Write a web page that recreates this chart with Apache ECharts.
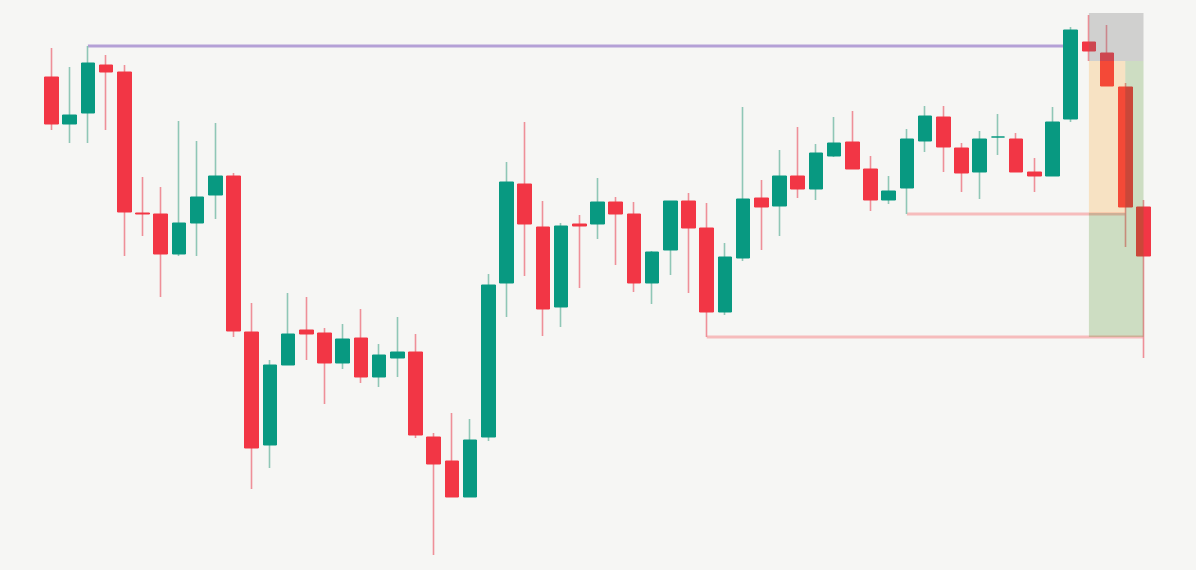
<!DOCTYPE html>
<html>
<head>
<meta charset="utf-8">
<script src="https://cdn.jsdelivr.net/npm/echarts@6/dist/echarts.min.js"></script>
<style>
  html, body {margin: 0; padding: 0; background: #f6f6f4;}
  #chart {width: 1196px; height: 570px;}
</style>
</head>
<body>
<div id="chart"></div>
<script>
// candles, one per bar, left to right
const opens = [523, 476, 487, 535, 528, 387, 386, 346, 377, 405, 424, 268, 155, 235, 270, 267, 237, 262, 223, 242,
  248, 163, 139, 103, 163, 317, 416, 373, 293, 376, 376, 398, 386, 317, 350, 399, 372, 288, 342, 402,
  394, 424, 411, 444, 458, 431, 400, 412, 459, 483, 452, 428, 463, 461, 428, 424, 481, 558, 547, 513, 393];
const closes = [476, 485, 537, 528, 388, 386, 346, 377, 403, 424, 269, 152, 235, 266, 266, 237, 261, 223, 245, 248,
  165, 136, 103, 160, 315, 418, 376, 291, 374, 374, 398, 386, 317, 348, 399, 372, 288, 343, 401, 393,
  424, 411, 447, 457, 431, 400, 409, 461, 484, 453, 427, 461, 463, 428, 424, 478, 570, 549, 514, 393, 344];
const lows = [470, 457, 457, 470, 344, 364, 303, 344, 344, 381, 263, 111, 132, 235, 240, 196, 231, 217, 213, 223,
  162, 45, 103, 103, 159, 283, 324, 264, 273, 312, 361, 335, 308, 296, 325, 307, 263, 285, 339, 350,
  364, 402, 400, 443, 431, 389, 396, 386, 448, 428, 408, 401, 445, 428, 408, 424, 478, 539, 514, 353, 242];
const highs = [552, 533, 554, 545, 535, 423, 413, 479, 459, 477, 427, 297, 240, 307, 303, 272, 276, 291, 256, 283,
  266, 167, 187, 181, 326, 438, 478, 399, 377, 385, 422, 403, 398, 349, 399, 407, 397, 357, 493, 420,
  450, 473, 456, 483, 489, 444, 424, 471, 494, 494, 457, 469, 486, 467, 442, 493, 573, 585, 575, 517, 400];

// horizontal levels: price, first bar, last bar
const levelPrices = [554, 386, 263];
const levelFrom = [2, 47, 36];
const levelTo = [56, 59, 60];

// shaded zones: bar range and price range
const zoneFrom = [57, 57, 59, 57];
const zoneTo = [60, 59, 60, 60];
const zoneTop = [587, 539, 539, 387];
const zoneBottom = [539, 387, 387, 263];

const UP = '#089981', DOWN = '#f23645';
const UP_WICK = '#8fc7b6', DOWN_WICK = '#ef8f98';
const levelColors = ['#b4a0d6', '#f6bcbc', '#f6bcbc'];
const zoneColors = ['rgba(110,110,110,0.28)', 'rgba(255,152,0,0.2)', 'rgba(60,130,20,0.22)', 'rgba(60,130,20,0.22)'];

const wickData = opens.map((o, i) => [i, o, closes[i], lows[i], highs[i]]);
const bodyData = opens.map((o, i) => [i, o, closes[i], Math.min(o, closes[i]), Math.max(o, closes[i])]);
const zoneData = zoneFrom.map((x0, k) => [x0, zoneTo[k], zoneTop[k], zoneBottom[k]]);

const levelSeries = levelPrices.map((p, k) => ({
  type: 'line',
  data: [[levelFrom[k], p], [levelTo[k], p]],
  symbol: 'none',
  silent: true,
  z: 1,
  lineStyle: {color: levelColors[k], width: 3}
}));

const option = {
  backgroundColor: '#f6f6f4',
  animation: false,
  grid: {left: 42.4, right: 43.4, top: 0, bottom: 0},
  xAxis: {type: 'value', min: -0.5, max: 60.5, show: false},
  yAxis: {type: 'value', min: 30, max: 600, show: false},
  series: [
    ...levelSeries,
    {
      type: 'candlestick',
      data: wickData,
      encode: {x: 0, y: [1, 2, 3, 4]},
      barWidth: 1,
      z: 2,
      itemStyle: {color: UP_WICK, color0: DOWN_WICK, borderColor: UP_WICK, borderColor0: DOWN_WICK, borderWidth: 1.6}
    },
    {
      type: 'candlestick',
      data: bodyData,
      encode: {x: 0, y: [1, 2, 3, 4]},
      barWidth: 14,
      z: 3,
      itemStyle: {color: UP, color0: DOWN, borderColor: UP, borderColor0: DOWN, borderWidth: 1}
    },
    {
      type: 'custom',
      data: zoneData,
      z: 10,
      silent: true,
      encode: {x: [0, 1], y: [2, 3]},
      renderItem: (params, api) => {
        const p0 = api.coord([api.value(0), api.value(2)]);
        const p1 = api.coord([api.value(1), api.value(3)]);
        return {
          type: 'rect',
          shape: {x: p0[0], y: p0[1], width: p1[0] - p0[0], height: p1[1] - p0[1]},
          style: {fill: zoneColors[params.dataIndex]}
        };
      }
    }
  ]
};

const myChart = echarts.init(document.getElementById('chart'));
myChart.setOption(option);
</script>
</body>
</html>
